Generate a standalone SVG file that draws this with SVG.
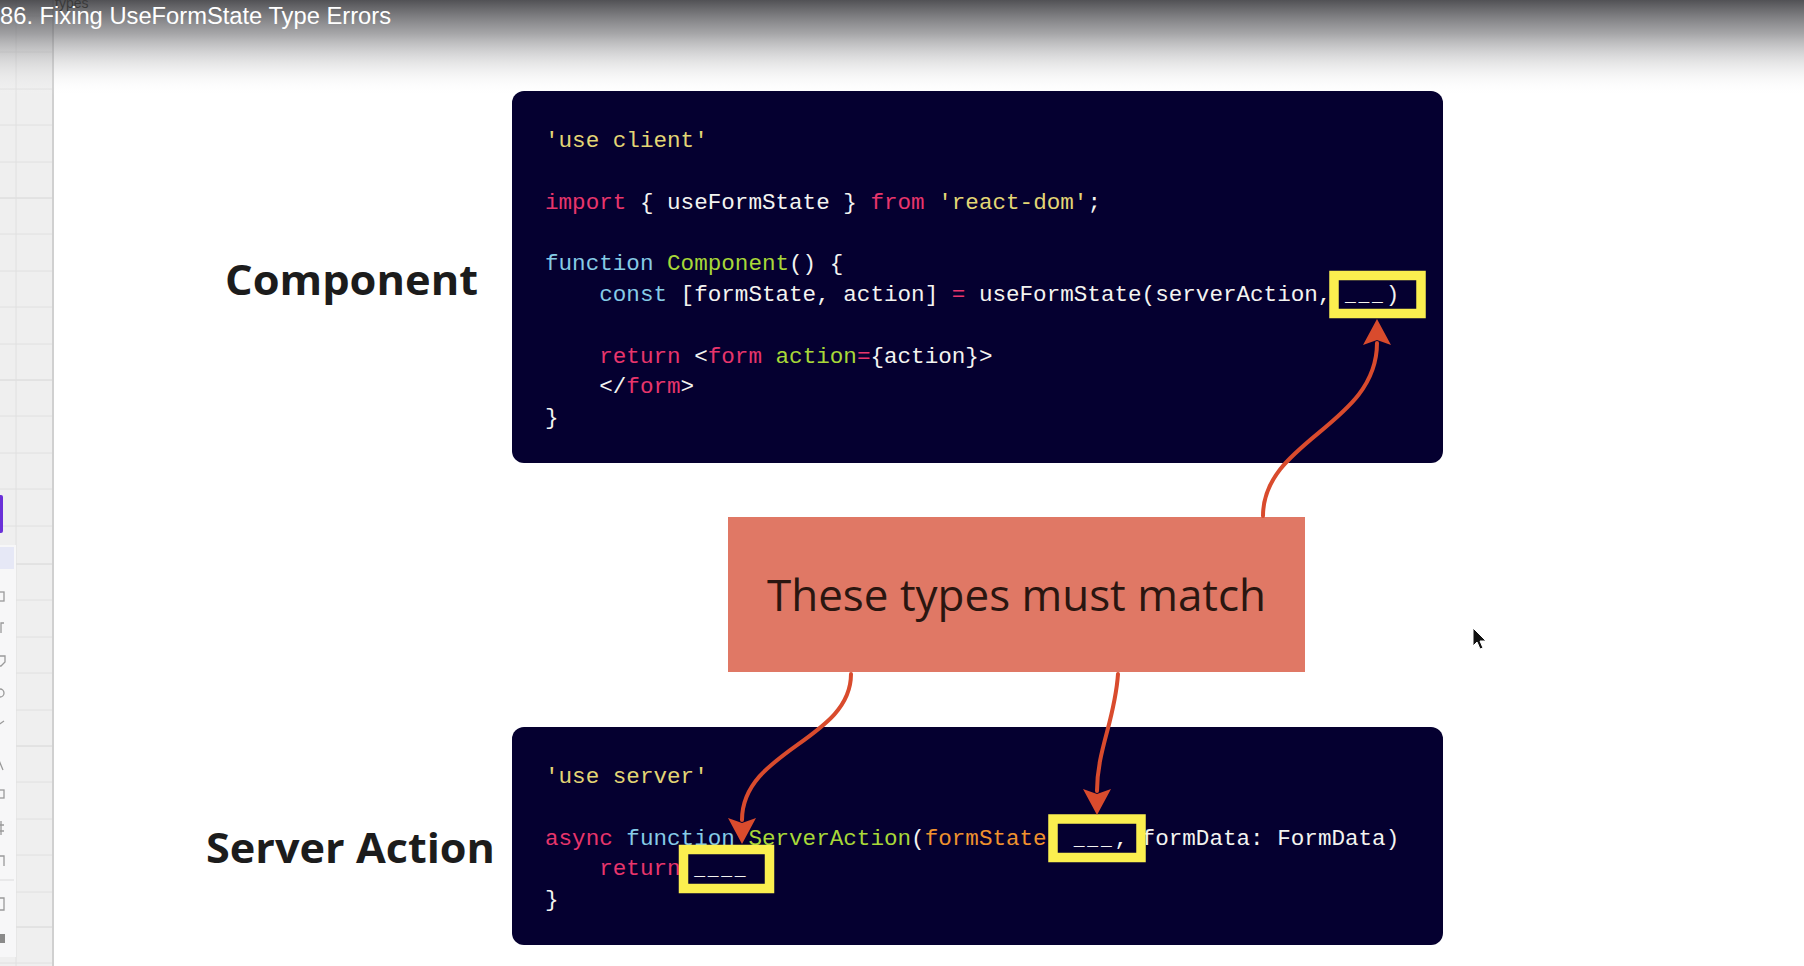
<svg xmlns="http://www.w3.org/2000/svg" width="1804" height="966" viewBox="0 0 1804 966">
<defs>
<linearGradient id="hdr" x1="0" y1="0" x2="0" y2="1">
<stop offset="0" stop-color="#3e3e42" stop-opacity="0.9"/>
<stop offset="0.35" stop-color="#6a6a6e" stop-opacity="0.6"/>
<stop offset="1" stop-color="#ffffff" stop-opacity="0"/>
</linearGradient>
<marker id="ah" markerUnits="userSpaceOnUse" markerWidth="30" markerHeight="32" viewBox="0 -16 28 32" refX="2" refY="0" orient="auto">
<path d="M0,-14 L26,0 L0,14 L5,0 Z" fill="#d94b2d"/>
</marker>
<style>
.code{font-family:"Liberation Mono","DejaVu Sans Mono",monospace;font-size:22.6px;fill:#f4f4f0;white-space:pre}
.s{fill:#e3d675}.k{fill:#e8356c}.b{fill:#86cbe6}.g{fill:#a8d838}.o{fill:#f0922e}
.u{font-size:18px;letter-spacing:2.76px}
.box{fill:#050030}
.hl{fill:none;stroke:#fbef4f;stroke-width:9.5}
.lbl{font-family:"Open Sans","Noto Sans",sans-serif;font-weight:700;font-size:42px;fill:#1c1c1c}
.conn{fill:none;stroke:#d94b2d;stroke-width:4;stroke-linecap:round}
.grid{stroke:#e0e0e0;stroke-width:1}
</style>
</defs>
<rect width="1804" height="966" fill="#ffffff"/>
<g id="sidebar">
<rect x="0" y="0" width="54" height="966" fill="#efefef"/>
<g class="grid">
<line x1="0" y1="16" x2="54" y2="16"/><line x1="0" y1="52" x2="54" y2="52"/><line x1="0" y1="89" x2="54" y2="89"/><line x1="0" y1="125" x2="54" y2="125"/><line x1="0" y1="162" x2="54" y2="162"/>
<line x1="0" y1="198" x2="54" y2="198" stroke="#d6d6d6"/><line x1="0" y1="234" x2="54" y2="234"/><line x1="0" y1="271" x2="54" y2="271"/><line x1="0" y1="307" x2="54" y2="307"/><line x1="0" y1="344" x2="54" y2="344"/>
<line x1="0" y1="380" x2="54" y2="380" stroke="#d6d6d6"/><line x1="0" y1="416" x2="54" y2="416"/><line x1="0" y1="453" x2="54" y2="453"/><line x1="0" y1="489" x2="54" y2="489"/><line x1="0" y1="526" x2="54" y2="526"/>
<line x1="0" y1="564" x2="54" y2="564" stroke="#d6d6d6"/><line x1="0" y1="600" x2="54" y2="600"/><line x1="0" y1="637" x2="54" y2="637"/><line x1="0" y1="673" x2="54" y2="673"/><line x1="0" y1="710" x2="54" y2="710"/>
<line x1="0" y1="746" x2="54" y2="746" stroke="#d6d6d6"/><line x1="0" y1="782" x2="54" y2="782"/><line x1="0" y1="819" x2="54" y2="819"/><line x1="0" y1="855" x2="54" y2="855"/><line x1="0" y1="892" x2="54" y2="892"/>
<line x1="0" y1="927" x2="54" y2="927" stroke="#d6d6d6"/><line x1="0" y1="963" x2="54" y2="963"/>
<line x1="16" y1="0" x2="16" y2="966"/>
<line x1="53" y1="0" x2="53" y2="966" stroke="#d0d0d0" stroke-width="2"/>
</g>
<rect x="0" y="545" width="16" height="412" fill="#f7f7f8"/>
<rect x="0" y="547" width="14" height="22" fill="#e6e8f6"/>
<rect x="-4" y="495" width="7" height="38" rx="2" fill="#6a30d8"/>
<g fill="none" stroke="#9a9a9a" stroke-width="1.3">
<rect x="-4" y="592" width="8" height="9"/>
<path d="M4,623 L1,623 L1,633"/>
<path d="M-4,656 L5,656 L5,662 L1,666 L-4,666"/>
<circle cx="0" cy="693" r="4"/>
<path d="M-2,725 L4,721"/>
<path d="M-2,758 L3,770"/>
<rect x="-4" y="790" width="8" height="8"/>
<path d="M-2,825 L4,825 M-2,831 L4,831 M1,821 L1,835"/>
<path d="M-4,856 L4,856 L4,866"/>
<path d="M-4,898 L4,898 L4,910 L-4,910"/>
<line x1="0" y1="880" x2="14" y2="880" stroke="#e2e2e2"/>
</g>
<rect x="-4" y="934" width="9" height="9" fill="#8a8a8a"/>
</g>
<g id="header">
<rect x="0" y="0" width="1804" height="96" fill="url(#hdr)"/>
<text x="55" y="8" font-family="Liberation Sans,Arial,sans-serif" font-size="14" fill="#3a3a3a">types</text>
<text x="0" y="24" font-family="Liberation Sans,Arial,sans-serif" font-size="23" fill="#ffffff" textLength="391" lengthAdjust="spacingAndGlyphs">86. Fixing UseFormState Type Errors</text>
</g>
<g id="label-component">
<text class="lbl" x="225" y="295" textLength="253" lengthAdjust="spacingAndGlyphs">Component</text>
</g>
<g id="label-server-action">
<text class="lbl" x="206" y="863" font-size="43" textLength="289" lengthAdjust="spacingAndGlyphs">Server Action</text>
</g>
<g id="component-code">
<rect class="box" x="512" y="91" width="931" height="372" rx="12"/>
<text class="code" x="545" y="147"><tspan class="s">'use client'</tspan></text>
<text class="code" x="545" y="208.6"><tspan class="k">import</tspan> { useFormState } <tspan class="k">from</tspan> <tspan class="s">'react-dom'</tspan>;</text>
<text class="code" x="545" y="270.2"><tspan class="b">function</tspan> <tspan class="g">Component</tspan>() {</text>
<text class="code" x="545" y="301">    <tspan class="b">const</tspan> [formState, action] <tspan class="k">=</tspan> useFormState(serverAction, <tspan class="u">___</tspan>)</text>
<text class="code" x="545" y="362.6">    <tspan class="k">return</tspan> &lt;<tspan class="k">form</tspan> <tspan class="g">action</tspan><tspan class="k">=</tspan>{action}&gt;</text>
<text class="code" x="545" y="393.4">    &lt;/<tspan class="k">form</tspan>&gt;</text>
<text class="code" x="545" y="424.2">}</text>
<rect class="hl" x="1334" y="275.5" width="87" height="38"/>
</g>
<g id="server-code">
<rect class="box" x="512" y="727" width="931" height="218" rx="12"/>
<text class="code" x="545" y="783"><tspan class="s">'use server'</tspan></text>
<text class="code" x="545" y="844.6"><tspan class="k">async</tspan> <tspan class="b">function</tspan> <tspan class="g">ServerAction</tspan>(<tspan class="o">formState</tspan>  <tspan class="u">___</tspan>, formData: FormData)</text>
<text class="code" x="545" y="875.4">    <tspan class="k">return</tspan> <tspan class="u">____</tspan></text>
<text class="code" x="545" y="906.2">}</text>
<rect class="hl" x="1053" y="819" width="88" height="38.5"/>
<rect class="hl" x="683.5" y="849.5" width="86" height="39"/>
</g>
<g id="note">
<rect x="728" y="517" width="577" height="155" fill="#e07865"/>
<text x="767" y="611" font-family="Open Sans,Noto Sans,sans-serif" font-size="43" fill="#2a1610" textLength="499" lengthAdjust="spacingAndGlyphs">These types must match</text>
</g>
<g id="connectors">
<path class="conn" d="M1263,516 C1263,440 1377,425 1377,343" marker-end="url(#ah)"/>
<path class="conn" d="M851,674 C851,740 742,750 742,820" marker-end="url(#ah)"/>
<path class="conn" d="M1118,674 C1115,720 1097,750 1097,791" marker-end="url(#ah)"/>
</g>
<g id="cursor">
<path d="M1473,628 L1473,646 L1477,642 L1480,649 L1483,648 L1480,641 L1486,641 Z" fill="#111" stroke="#fff" stroke-width="1"/>
</g>
</svg>
